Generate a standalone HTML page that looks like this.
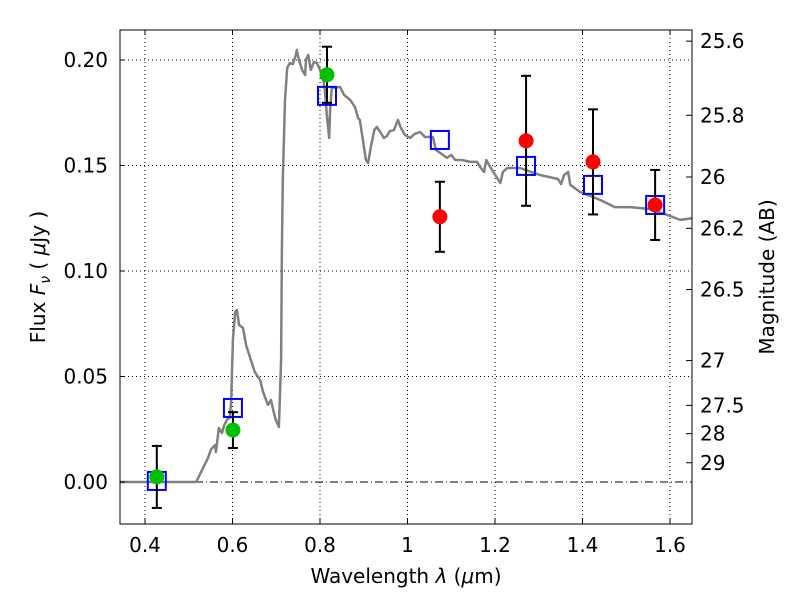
<!DOCTYPE html>
<html><head><meta charset="utf-8"><style>
html,body{margin:0;padding:0;background:#fff}
svg text{font-family:"DejaVu Sans","Liberation Sans",sans-serif}
</style></head><body>
<svg id="chart" width="800" height="600" xmlns="http://www.w3.org/2000/svg">
<rect width="800" height="600" fill="#fff"/>
<g id="grid"></g>
<g id="plot"></g>
<rect x="120" y="30" width="572" height="494" fill="none" stroke="#000" stroke-width="1"/>
<g id="axes"></g>
<text x="406" y="583" font-size="20" text-anchor="middle">Wavelength  <tspan font-style="italic">λ</tspan> (<tspan font-style="italic">μ</tspan>m)</text>
<text transform="translate(45,277) rotate(-90)" font-size="20" text-anchor="middle">Flux  <tspan font-style="italic">F</tspan><tspan font-style="italic" font-size="14" dy="5">ν</tspan><tspan dy="-5">  (  </tspan><tspan font-style="italic">μ</tspan>Jy )</text>
<text transform="translate(774,277) rotate(-90)" font-size="20" text-anchor="middle">Magnitude (AB)</text>
</svg>
<script>
const specLam=[0.343,0.517,0.526,0.544,0.551,0.556,0.560,0.562,0.569,0.576,0.581,0.590,0.594,0.597,0.601,0.606,0.610,0.615,0.624,0.631,0.642,0.651,0.663,0.670,0.681,0.688,0.693,0.699,0.706,0.711,0.713,0.715,0.720,0.725,0.731,0.738,0.745,0.747,0.752,0.759,0.766,0.768,0.773,0.779,0.786,0.793,0.800,0.807,0.811,0.816,0.821,0.823,0.827,0.846,0.855,0.869,0.880,0.887,0.891,0.898,0.905,0.910,0.917,0.924,0.930,0.939,0.946,0.953,0.960,0.969,0.978,0.985,0.994,1.006,1.017,1.029,1.040,1.058,1.065,1.081,1.090,1.100,1.109,1.125,1.143,1.159,1.166,1.175,1.180,1.189,1.212,1.218,1.228,1.257,1.303,1.344,1.351,1.358,1.367,1.372,1.394,1.440,1.474,1.509,1.554,1.600,1.623,1.650];
const specFlux=[0,0,0.0038,0.0114,0.0156,0.0166,0.0175,0.0142,0.0256,0.0232,0.0270,0.0303,0.0303,0.0389,0.0673,0.0806,0.0815,0.0744,0.0730,0.0649,0.0578,0.0521,0.0483,0.0427,0.0365,0.0389,0.0341,0.0294,0.0261,0.0578,0.1100,0.1431,0.1811,0.1962,0.1986,0.1981,0.2024,0.2048,0.2000,0.1953,0.1929,0.2000,0.2024,0.1953,0.1991,0.1986,0.1953,0.1915,0.1858,0.1730,0.1631,0.1763,0.1868,0.1872,0.1834,0.1811,0.1777,0.1725,0.1716,0.1621,0.1526,0.1512,0.1597,0.1668,0.1683,0.1654,0.1631,0.1640,0.1664,0.1668,0.1716,0.1678,0.1645,0.1631,0.1650,0.1659,0.1635,0.1635,0.1574,0.1550,0.1536,0.1550,0.1526,0.1526,0.1517,0.1517,0.1493,0.1469,0.1526,0.1493,0.1417,0.1469,0.1488,0.1488,0.1455,0.1436,0.1412,0.1455,0.1469,0.1408,0.1375,0.1337,0.1303,0.1303,0.1294,0.1261,0.1242,0.1250];
const greenLam=[0.427,0.601,0.816];
const greenFlux=[0.0024,0.0246,0.193];
const greenErr=[0.0147,0.0085,0.0133];
const redLam=[1.074,1.271,1.424,1.566];
const redFlux=[0.1257,0.1617,0.1517,0.1313];
const redErr=[0.0166,0.0308,0.0249,0.0166];
const modelLam=[0.427,0.601,0.816,1.074,1.271,1.424,1.566];
const modelFlux=[0.0005,0.0351,0.1830,0.1621,0.1498,0.1408,0.1313];
const xTicks=[0.4,0.6,0.8,1.0,1.2,1.4,1.6];
const xTickLabels=["0.4","0.6","0.8","1","1.2","1.4","1.6"];
const yTicks=[0,0.05,0.10,0.15,0.20];
const yTickLabels=["0.00","0.05","0.10","0.15","0.20"];
const magTicks=[25.6,25.8,26,26.2,26.5,27,27.5,28,29];
const magTickLabels=["25.6","25.8","26","26.2","26.5","27","27.5","28","29"];

const X=l=>145+(l-0.4)*437.5;
const Y=f=>482-f*2110;
const NS="http://www.w3.org/2000/svg";
function mk(tag,attrs,parent){const e=document.createElementNS(NS,tag);for(const k in attrs)e.setAttribute(k,attrs[k]);parent.appendChild(e);return e;}
const grid=document.getElementById('grid'),plot=document.getElementById('plot'),axes=document.getElementById('axes');

xTicks.forEach((t,i)=>{
  const x=X(t);
  const g=mk('line',{x1:x,x2:x,y1:30,y2:524,stroke:'#000','stroke-width':1,'stroke-dasharray':'1,3'},grid);
  
  
  const tk=mk('line',{x1:x,x2:x,y1:524,y2:519,stroke:'#000'},axes);
  
  
  const tk2=mk('line',{x1:x,x2:x,y1:30,y2:35,stroke:'#000'},axes);
  
  
  const lb=mk('text',{x:x,y:552,'font-size':20,'text-anchor':'middle'},axes);
  lb.textContent=xTickLabels[i];
  
  
});
yTicks.forEach((t,i)=>{
  const y=Y(t);
  const g=mk('line',{x1:120,x2:692,y1:y,y2:y,stroke:'#000','stroke-width':1,'stroke-dasharray':t===0?'8,3,1,3':'1,3'},grid);
  
  
  const tk=mk('line',{x1:120,x2:125,y1:y,y2:y,stroke:'#000'},axes);
  
  
  const lb=mk('text',{x:108,y:y+7,'font-size':20,'text-anchor':'end'},axes);
  lb.textContent=yTickLabels[i];
  
  
});
magTicks.forEach((m,i)=>{
  const y=Y(Math.pow(10,(23.9-m)/2.5));
  const tk=mk('line',{x1:692,x2:686,y1:y,y2:y,stroke:'#000'},axes);
  
  
  const lb=mk('text',{x:700,y:y+7,'font-size':20},axes);
  lb.textContent=magTickLabels[i];
  
  
});

const d=specLam.map((l,i)=>(i?'L':'M')+X(l).toFixed(1)+','+Y(specFlux[i]).toFixed(1)).join(' ');
const sp=mk('path',{d:d,fill:'none',stroke:'#808080','stroke-width':2.5,'stroke-linejoin':'round'},plot);



function errbar(l,f,e){
  const x=X(l),y1=Y(f+e),y2=Y(f-e);
  const a=mk('line',{x1:x,x2:x,y1:y1,y2:y2,stroke:'#000','stroke-width':2},plot);
  
  
  [y1,y2].forEach(y=>{const c=mk('line',{x1:x-5,x2:x+5,y1:y,y2:y,stroke:'#000','stroke-width':2},plot);
  
  });
}
modelLam.forEach((l,i)=>{
  const r=mk('rect',{x:X(l)-9,y:Y(modelFlux[i])-9,width:18,height:18,fill:'none',stroke:'#0000ff','stroke-width':2},plot);
  
  
});
greenLam.forEach((l,i)=>{
  errbar(l,greenFlux[i],greenErr[i]);
  const c=mk('circle',{cx:X(l),cy:Y(greenFlux[i]),r:7.5,fill:'#00c000'},plot);
  
  
});
redLam.forEach((l,i)=>{
  errbar(l,redFlux[i],redErr[i]);
  const c=mk('circle',{cx:X(l),cy:Y(redFlux[i]),r:7.5,fill:'#ff0000'},plot);
  
  
});
</script>
</body></html>
